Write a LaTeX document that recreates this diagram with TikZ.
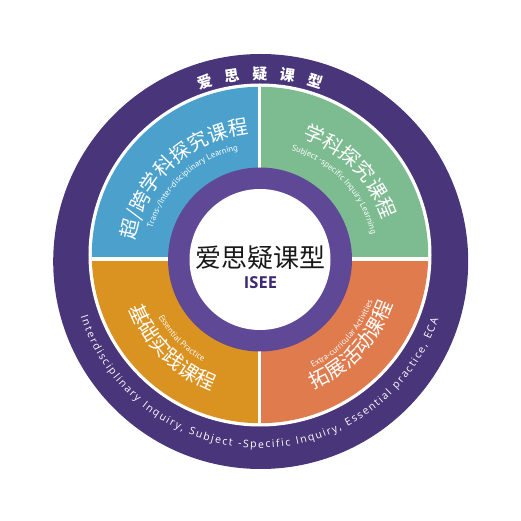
\documentclass[tikz,border=0pt]{standalone}
\usepackage{fontspec}
\setmainfont{Open Sans}
\newfontfamily\cjkfont{Noto Sans CJK SC}
\newfontfamily\labelfont{PT Sans}
\usetikzlibrary{decorations.text}

\definecolor{ringpurple}{HTML}{48357A}
\definecolor{corepurple}{HTML}{5F4895}
\definecolor{iseepurple}{HTML}{3D2A72}
\definecolor{quadblue}{HTML}{4BA1CC}
\definecolor{quadgreen}{HTML}{7DBB91}
\definecolor{quadorange}{HTML}{DA9221}
\definecolor{quadcoral}{HTML}{DF7B4D}

\tikzset{
	bigcjk/.style={decorate, decoration={text along path, text align=center, text color=white,
		text={|\cjkfont\fontsize{20}{24}\selectfont|#1}}},
	smalleng/.style={decorate, decoration={text along path, text align=center, text color=white,
		text={|\labelfont\fontsize{8.5}{10}\selectfont|#1}}},
}

\begin{document}
\begin{tikzpicture}[x=1pt,y=1pt]
	\useasboundingbox (-260,-261) rectangle (261,260);
	% outer ring
	\fill[ringpurple] (0.7,-1.5) circle (207.5);
	\fill[white] (0,5) circle (171.5);
	% the four quadrants
	\begin{scope}
		\clip (0,5) circle (168.2);
		\foreach \col/\sx/\sy in {quadblue/-1/1, quadgreen/1/1, quadorange/-1/-1, quadcoral/1/-1} {
			\fill[\col] (-0.3,1.2) rectangle (180*\sx,180*\sy);
		}
		\draw[white,line width=3.5pt] (-0.3,-180) -- (-0.3,180);
		\draw[white,line width=3.5pt] (-180,1.2) -- (180,1.2);
	\end{scope}
	% inner ring
	\fill[corepurple] (0,0.5) circle (92);
	\fill[white] (0,0.5) circle (70.5);
	% centre
	\node[font=\cjkfont\fontsize{26}{30}\selectfont,text=black!90] (core) at (0,2) {爱思疑课型};
	\node[font=\bfseries\fontsize{16.5}{20}\selectfont,text=iseepurple] (isee) at (0.5,-23) {ISEE};
	% titles on the outer ring
	\path[decorate, decoration={text along path, text align={fit to path}, text color=white,
		text={|\cjkfont\bfseries\fontsize{15}{18}\selectfont|爱思疑课型}}]
		(109.5:181) arc[start angle=109.5, end angle=70.5, radius=181];
	\path[decorate, decoration={text along path, text align={fit to path}, text color=white,
		text={|\fontsize{10.5}{12}\selectfont|Interdisciplinary Inquiry, Subject -Specific Inquiry, Essential practice, ECA}}]
		(-162.5:188) arc[start angle=-162.5, end angle=-18.5, radius=188];
	% upper quadrants (read clockwise)
	\path[bigcjk={超/跨学科探究课程}] (183:126.5) arc[start angle=183, end angle=83, radius=126.5];
	\path[smalleng={Trans-/Inter-disciplinary Learning}] (182:112) arc[start angle=182, end angle=83, radius=112];
	\path[bigcjk={学科探究课程}] (94.5:129.5) arc[start angle=94.5, end angle=-5.5, radius=129.5];
	\path[smalleng={Subject -specific Inquiry Learning}] (93.5:114) arc[start angle=93.5, end angle=-6.5, radius=114];
	% lower quadrants (read anticlockwise)
	\path[bigcjk={基础实践课程}] (-185:139.5) arc[start angle=-185, end angle=-85, radius=139.5];
	\path[smalleng={Essential Practice}] (-185:116.5) arc[start angle=-185, end angle=-85, radius=116.5];
	\path[bigcjk={拓展活动课程}] (-93:140) arc[start angle=-93, end angle=7, radius=140];
	\path[smalleng={Extra-curricular Activities}] (-92:120) arc[start angle=-92, end angle=8, radius=120];
\end{tikzpicture}
\end{document}
